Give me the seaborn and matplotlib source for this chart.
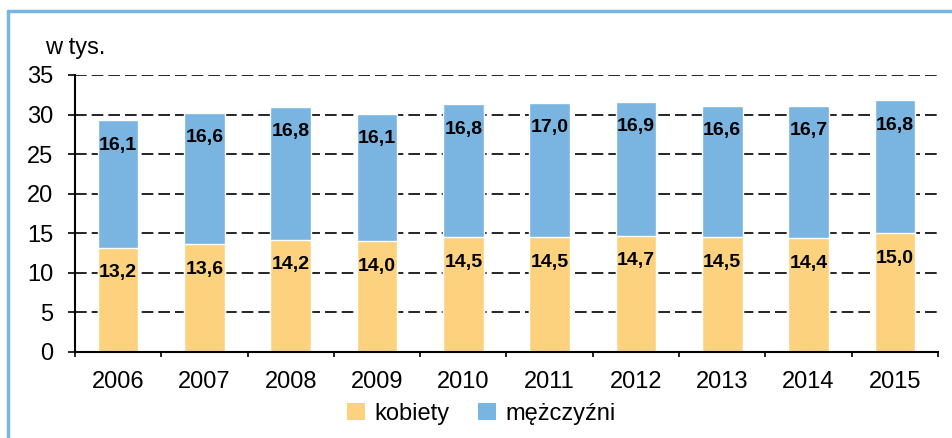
import matplotlib
matplotlib.use("Agg")
import matplotlib.pyplot as plt
import seaborn as sns
import pandas as pd
from matplotlib.lines import Line2D
from matplotlib.patches import Patch

years = ["2006", "2007", "2008", "2009", "2010", "2011", "2012", "2013", "2014", "2015"]
kobiety = [13.2, 13.6, 14.2, 14.0, 14.5, 14.5, 14.7, 14.5, 14.4, 15.0]
mezczyzni = [16.1, 16.6, 16.8, 16.1, 16.8, 17.0, 16.9, 16.6, 16.7, 16.8]
y_ticks = [0, 5, 10, 15, 20, 25, 30, 35]
series_names = ["kobiety", "mężczyźni"]

c_k = "#FCD27F"
c_m = "#7AB4E0"

sns.set_theme(style="white")
plt.rcParams["font.family"] = ["Liberation Sans", "DejaVu Sans"]
plt.rcParams["text.color"] = "black"
plt.rcParams["xtick.color"] = "black"
plt.rcParams["ytick.color"] = "black"
plt.rcParams["axes.labelcolor"] = "black"

df = pd.DataFrame({"rok": years, "k": kobiety, "m": mezczyzni})
df["total"] = df["k"] + df["m"]

fig = plt.figure(figsize=(9.53, 4.38), dpi=100)
ax = fig.add_axes([75/953, 1-352/438, 863/953, 277/438])

sns.barplot(data=df, x="rok", y="total", color=c_m, saturation=1, width=0.47,
            edgecolor="white", linewidth=1, ax=ax, zorder=3)
sns.barplot(data=df, x="rok", y="k", color=c_k, saturation=1, width=0.47,
            edgecolor="white", linewidth=1, ax=ax, zorder=3)

ax.set_ylim(0, 35)
ax.set_xlim(-0.5, len(years) - 0.5)
ax.set_yticks(y_ticks)
ax.set_yticklabels([str(t) for t in y_ticks], fontsize=17, color="black")
ax.set_xticks(range(len(years)))
ax.set_xticklabels(years, fontsize=17, color="black")
ax.tick_params(axis="x", length=0, pad=13.5)
ax.tick_params(axis="y", length=5, width=1.2, color="black", direction="out", pad=10.5, left=True)
# category boundary ticks
ax.set_xticks([i - 0.5 for i in range(len(years) + 1)], minor=True)
ax.tick_params(axis="x", which="minor", length=3.5, width=1.2, color="black", direction="out", bottom=True)
ax.set_xlabel("")
ax.set_ylabel("")

for yv in y_ticks[1:]:
    ax.axhline(yv, color="black", linestyle=(0, (7, 3)), linewidth=1.2, zorder=1)

for s in ["top", "right"]:
    ax.spines[s].set_visible(False)
for s in ["left", "bottom"]:
    ax.spines[s].set_color("black")
    ax.spines[s].set_linewidth(1.5)
    ax.spines[s].set_zorder(5)

def fmt(v):
    return f"{v:.1f}".replace(".", ",")

for i in range(len(years)):
    ax.annotate(fmt(kobiety[i]), (i, kobiety[i]), xytext=(0, -25), textcoords="offset pixels",
                ha="center", va="center", fontsize=14, fontweight="bold", color="black", zorder=6)
    tot = kobiety[i] + mezczyzni[i]
    ax.annotate(fmt(mezczyzni[i]), (i, tot), xytext=(0, -25), textcoords="offset pixels",
                ha="center", va="center", fontsize=14, fontweight="bold", color="black", zorder=6)

fig.text(45/953, 1-48/438, "w tys.", fontsize=17, ha="left", va="center", color="black")

handles = [Patch(facecolor=c_k, edgecolor="none"), Patch(facecolor=c_m, edgecolor="none")]
fig.legend(handles, series_names, loc="center", bbox_to_anchor=(0.505, 1-414/438), ncol=2,
           frameon=False, fontsize=17, handlelength=0.75, handleheight=0.75,
           handletextpad=0.4, columnspacing=1.2)

# outer frame (left and top visible)
fig.add_artist(Line2D([8.5/953, 8.5/953], [0, 1-11/438], color=c_m, linewidth=2.5, transform=fig.transFigure))
fig.add_artist(Line2D([8.5/953, 1.0], [1-11/438, 1-11/438], color=c_m, linewidth=2.5, transform=fig.transFigure))

fig.savefig("out.png", dpi=100)
